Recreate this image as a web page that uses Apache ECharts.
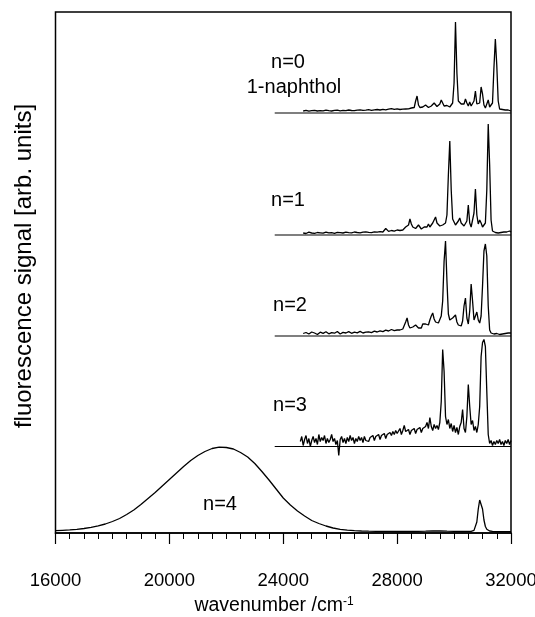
<!DOCTYPE html>
<html>
<head>
<meta charset="utf-8">
<script src="https://cdn.jsdelivr.net/npm/echarts@6/dist/echarts.min.js"></script>
<style>html,body{margin:0;padding:0;background:#fff;overflow:hidden;}#c{width:535px;height:617px;display:block;}</style>
</head>
<body>
<div id="c"></div>
<script>
function range(a, b, s) { const r = []; for (let v = a; v <= b + 1e-9; v += s) r.push(v); return r; }

// x grids (wavenumber, cm-1)
const wnA = range(24700, 28000, 100).concat(range(28050, 32000, 50));
const wnB = range(24600, 32000, 50);
const wn4 = range(16000, 30500, 250).concat(range(30550, 31400, 50), range(31500, 32000, 250));

// tick labels
const xTicks = [16000, 20000, 24000, 28000, 32000];

// n=0 (1-naphthol) signal above its baseline
const sig0 = [
  2,2.6,1.8,2.3,2.7,2,2.4,2.1,2.8,2.3,2,2.6,2.9,2.2,2.6,2.4,3,2.5,2.3,2.9,3.1,2.6,2.9,3.3,2.7,3.1,3.5,3,3.7,3.2,3.9,4.4,3.6,4.1,
  4,3.5,4,3.8,4.5,4,5,4.2,4.5,5,4.6,5.5,
  12,17,8,5.5,5,6,7,8,6,5.5,6,7,
  8.5,10,9,6.5,7,9,13,11,7,6,7.5,8.5,
  6,7,10,30,91,40,12,10,9,7,9,14,
  10,7,11,7,6,12,22,9,7,10,26,19,
  8,5,9,13,6,5,10,45,74,48,12,4,
  3,3.5,2.5,3,2,3,2.5,2
];
// n=1
const sig1 = [
  2,1.5,2.8,2,1.6,2.5,2.2,1.8,2.9,2.1,2.4,1.7,2.6,2.3,2,2.8,2.4,2.1,3,2.5,2.2,2.9,3.2,2.6,2.4,3.1,2.8,3.3,3,6.5,3.6,4.5,3.8,5,
  5,4.5,6,5,6.5,8,7,10,16,11,8,7,
  6.5,8,10,8,6,7,8,9,8,11,8,9,
  12,15,18,12,10,9,11,10,9,12,20,60,
  94,45,16,14,10,9,14,17,12,11,9,8,
  14,30,12,8,10,22,46,20,11,15,12,8,
  7,12,45,111,70,15,4,3,2.5,3.5,2,3,
  2.5,3.5,3,2,3,2.5,4,3
];
// n=2
const sig2 = [
  2.5,3.5,2,4,3,1.5,3.8,2.6,4.2,2.2,3.4,2.8,4.5,2,3.6,3,4.4,2.7,3.9,3.2,4.6,3,3.8,4.2,3.4,4.8,4,5.2,4.4,5.8,5,6.5,5.4,6,
  5,6,5,7,9,14,18,11,8,10,9,7,
  11,9,8,10,8,12,10,12,14,11,16,20,
  23,17,14,16,13,15,20,35,75,95,55,22,
  16,14,18,20,21,14,11,12,10,15,30,38,
  18,12,25,52,35,16,20,24,16,13,20,50,
  85,92,80,30,6,3,4,2,3.5,2.5,4,1.5,
  3,2,4,2.5,1,3,4,3
];
// n=3
const sig3 = [
  5,10,1,7,11,3,8,0,6,10,4,8,
  2,12,5,9,6,11,3,8,4,7,12,5,
  8,2,6,-9,7,10,4,8,3,9,5,11,
  6,9,3,8,5,10,6,9,4,10,6,8,
  5,9,7,11,6,10,8,12,7,11,9,13,
  8,12,10,14,11,15,12,16,13,
  14,18,12,16,21,15,13,17,12,16,14,18,
  13,17,15,19,14,18,16,20,24,18,29,20,
  16,22,18,21,17,24,45,97,75,30,22,27,
  18,23,15,21,14,19,12,20,24,37,18,14,
  30,62,40,22,26,16,20,14,22,40,90,104,
  107,100,55,12,3,6,1,5,2,6,3,7,
  2,5,1,6,3,7,2,6
];
// n=4 (absolute, above the axis)
const sig4 = [
  2.3,2.7,3.1,3.7,4.5,5.6,7.2,9,11.5,14.5,18.5,23,
  28.5,34.5,40.5,47,53.5,60,66.5,72.5,77.5,81.5,84.5,85.8,
  85.5,84,80.5,76,69.5,61.5,53,44,35,28,22,17,
  12.5,9.5,7,5,3.6,2.9,2.4,2,1.8,1.7,1.6,1.6,
  1.5,1.6,1.5,1.7,1.8,2,2.2,1.8,1.6,1.5,1.6,
  1.6,1.7,2,2.6,4.5,11,24,33,32,24,13,6.5,3.8,2.6,2,1.8,1.6,1.5,
  1.4,1.4,1.4
];

// vertical offsets of the stacked traces (px units of the y scale)
const offsets = [420, 298, 197, 86.5];
const baseStart = 23700, baseEnd = 32000;
const labels = ['n=0', 'n=1', 'n=2', 'n=3', 'n=4'];

const FONT = '"Liberation Sans", Arial, Helvetica, sans-serif';
const chart = echarts.init(document.getElementById('c'), null, { width: 535, height: 617 });

function mk(wn, sig, off) { return wn.map((w, i) => [w, off + sig[i]]); }

const series = [];
offsets.forEach(off => {
  series.push({ type: 'line', data: [[baseStart, off], [baseEnd, off]], showSymbol: false, silent: true,
    lineStyle: { color: '#000', width: 1.2 }, z: 2 });
});
series.push({ type: 'line', data: mk(wnA, sig0, offsets[0]) });
series.push({ type: 'line', data: mk(wnA, sig1, offsets[1]) });
series.push({ type: 'line', data: mk(wnA, sig2, offsets[2]) });
series.push({ type: 'line', data: mk(wnB, sig3, offsets[3]) });
series.push({ type: 'line', data: mk(wn4, sig4, 0) });
series.forEach((s, i) => { if (i >= 4) { s.showSymbol = false; s.lineStyle = { color: '#000', width: 1.3 }; s.z = 3; } });

function txt(t, x, y, size, rot) {
  return { type: 'text', x: x, y: y, rotation: rot || 0,
    style: { text: t, fontSize: size, fontFamily: FONT, fill: '#000', textAlign: 'center', textVerticalAlign: 'middle' } };
}

chart.setOption({
  animation: false,
  backgroundColor: '#fff',
  grid: { left: 55.5, right: 24, top: 12, bottom: 84, show: true, borderColor: '#000', borderWidth: 1.5,
    containLabel: false, outerBoundsMode: 'none' },
  xAxis: {
    type: 'value', min: xTicks[0], max: xTicks[xTicks.length - 1], interval: 4000,
    axisLine: { show: true, lineStyle: { color: '#000', width: 1.5 } },
    axisTick: { show: true, inside: false, length: 11, lineStyle: { color: '#000', width: 1.2 } },
    minorTick: { show: true, splitNumber: 8, length: 6, lineStyle: { color: '#000', width: 1 } },
    axisLabel: { fontSize: 18.5, color: '#000', margin: 38, fontFamily: FONT, formatter: v => String(v) },
    splitLine: { show: false }
  },
  yAxis: { type: 'value', min: 0, max: 521, show: false },
  series: series,
  graphic: [
    txt(labels[0], 288, 62, 20),
    txt('1-naphthol', 294, 87, 20),
    txt(labels[1], 288, 200, 20),
    txt(labels[2], 290, 305, 20),
    txt(labels[3], 290, 405, 20),
    txt(labels[4], 220, 504, 20),
    txt('fluorescence signal [arb. units]', 24, 266, 24, Math.PI / 2),
    { type: 'text', x: 274, y: 606,
      style: { text: 'wavenumber /cm{sup|-1}', fontSize: 19.5, fontFamily: FONT, fill: '#000',
        textAlign: 'center', textVerticalAlign: 'middle',
        rich: { sup: { fontSize: 12, fontFamily: FONT, verticalAlign: 'top', padding: [0, 0, 8, 0] } } } }
  ]
});
</script>
</body>
</html>
